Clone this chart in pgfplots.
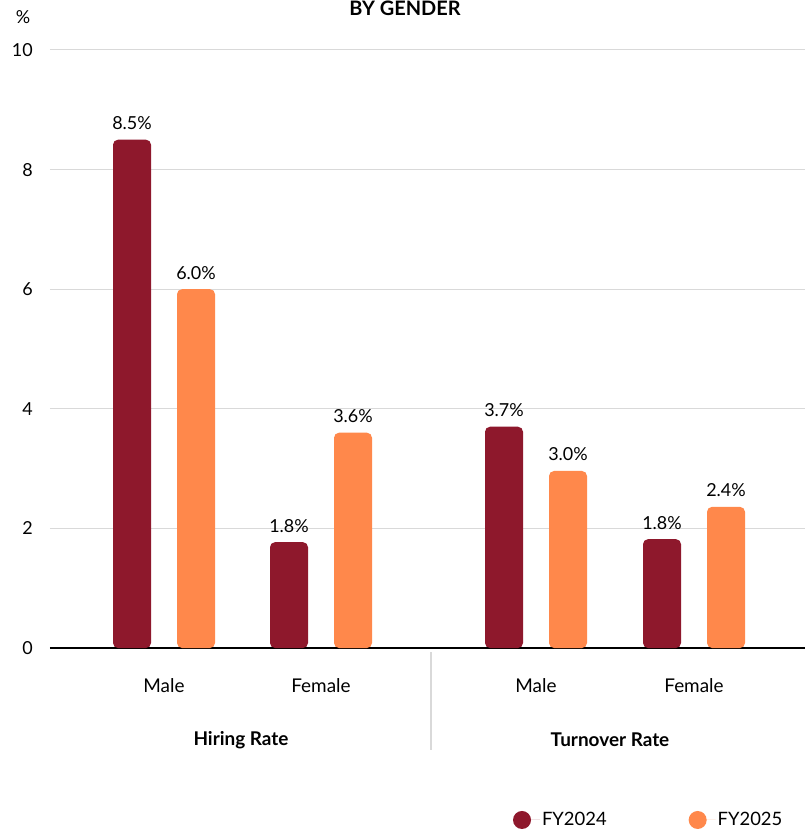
\documentclass[border=0pt]{standalone}
\usepackage{pgfplots}
\pgfplotsset{compat=1.18}
\usepackage{fontspec}
\setmainfont{Lato}
\definecolor{fyA}{HTML}{8E182C}
\definecolor{fyB}{HTML}{FF884B}
\definecolor{gridc}{HTML}{D9D9D9}
\begin{document}
\begin{tikzpicture}[x=1bp,y=1bp]
\begin{axis}[
  at={(0,0)}, anchor=south west,
  scale only axis, width=755bp, height=598bp,
  xmin=50, xmax=805, ymin=0, ymax=10,
  clip=false,
  axis x line*=bottom, axis y line*=left,
  x axis line style={-, black, line width=2bp},
  y axis line style={draw=none},
  ytick={0,2,...,10}, ymajorgrids,
  grid style={gridc, line width=1bp},
  major tick length=0pt,
  /pgf/number format/assume math mode=true,
  yticklabel style={font=\fontsize{18}{21}\selectfont, anchor=east, inner sep=0pt, xshift=-17bp},
  xtick={164,321,536,694},
  xticklabels={Male,Female,Male,Female},
  xticklabel style={font=\fontsize{19}{22}\selectfont, anchor=center, yshift=-38bp},
  ybar, bar width=38, bar shift=0pt,
  nodes near coords={\pgfmathprintnumber[fixed,fixed zerofill,precision=1]{\pgfplotspointmeta}\%},
  nodes near coords style={font=\fontsize{18}{21}\selectfont, anchor=base, inner sep=0pt, yshift=10bp, black},
  legend style={at={(0.613,-0.2876)}, anchor=west, draw=none, inner sep=0pt,
    legend columns=2, font=\fontsize{18.5}{21}\selectfont,
    /tikz/every even column/.append style={column sep=80bp}},
  legend cell align=left,
]
\addplot[fill=fyA, draw=none, rounded corners=5bp,
  legend image code/.code={\fill[fyA] (9bp,0bp) circle (9bp); \path (0bp,0bp) -- (27bp,0bp);}]
  coordinates {(132,8.5) (289,1.77) (504,3.7) (662,1.82)};
\addplot[fill=fyB, draw=none, rounded corners=5bp,
  legend image code/.code={\fill[fyB] (9bp,0bp) circle (9bp); \path (0bp,0bp) -- (27bp,0bp);}]
  coordinates {(196,6.0) (353,3.6) (568,2.96) (726,2.36)};
\legend{FY2024,FY2025}
\draw[gridc, line width=1.5bp] ([yshift=-4bp]axis cs:431,0) -- ([yshift=-102bp]axis cs:431,0);
\node[font=\bfseries\fontsize{19}{22}\selectfont] at (axis cs:241,0) [yshift=-92bp] {Hiring Rate};
\node[font=\bfseries\fontsize{19}{22}\selectfont] at (axis cs:610,0) [yshift=-92bp] {Turnover Rate};
\node[font=\fontsize{18}{21}\selectfont] at (rel axis cs:0,1) [xshift=-27bp, yshift=33bp] {\%};
\end{axis}
\node[font=\fontsize{20}{24}\selectfont\bfseries, anchor=base] at (355bp,632bp) {BY GENDER};
\pgfresetboundingbox
\path (-50bp,-184bp) rectangle (755bp,648bp);
\end{tikzpicture}
\end{document}
